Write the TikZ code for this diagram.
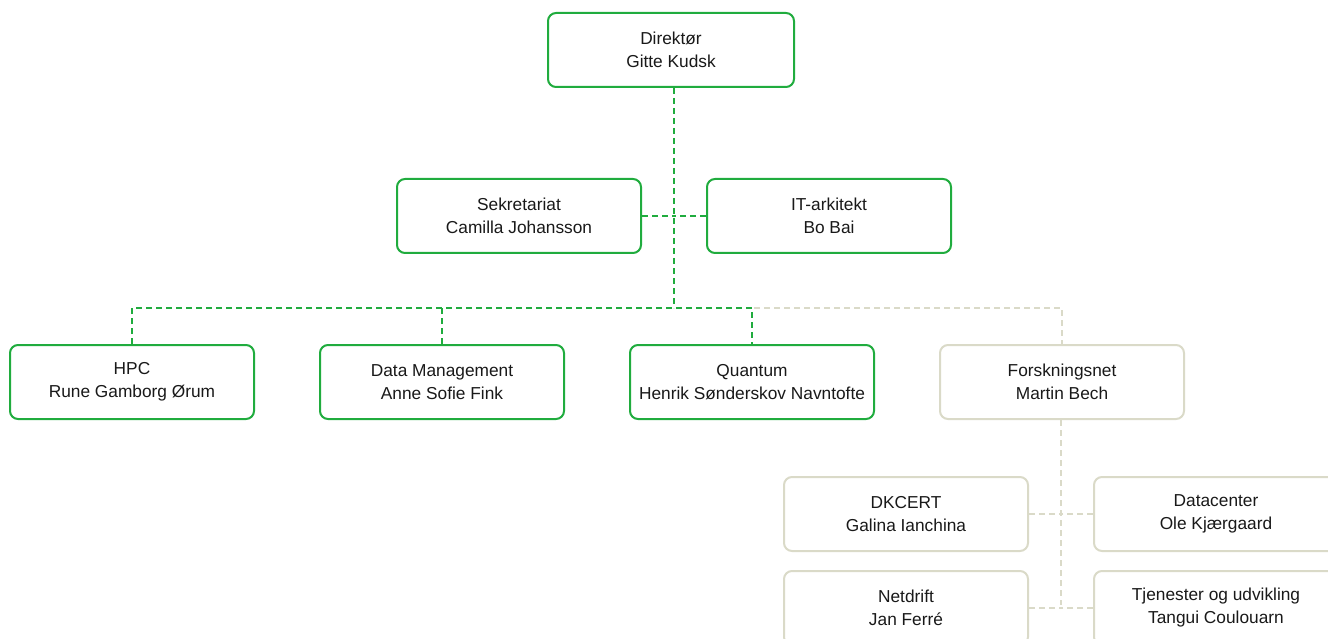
\documentclass[tikz,border=0pt]{standalone}
\usepackage{fontspec}
\setmainfont{Liberation Sans}
\definecolor{grn}{RGB}{32,172,62}
\definecolor{sand}{RGB}{218,218,200}
\definecolor{txt}{RGB}{25,25,25}
\tikzset{
  box/.style={draw, rounded corners=8pt, line width=2pt, minimum width=244pt, minimum height=74pt,
    align=center, inner sep=0pt, text=txt, font=\fontsize{17.3pt}{23pt}\selectfont, fill=white},
  gbox/.style={box, draw=grn},
  sbox/.style={box, draw=sand},
  gline/.style={draw=grn, line width=2pt, dash pattern=on 6pt off 4pt},
  sline/.style={draw=sand, line width=2pt, dash pattern=on 6pt off 4pt},
}
\begin{document}
\begin{tikzpicture}[x=1pt,y=-1pt]
\useasboundingbox (0,0) rectangle (1328,639);
\clip (0,0) rectangle (1328,639);
\coordinate (j1) at (674,308);
\coordinate (j2) at (1061,605);
\node[gbox, minimum width=246pt] (dir) at (671,50) {Direktør\\Gitte Kudsk};
\node[gbox] (sek) at (519,216) {Sekretariat\\Camilla Johansson};
\node[gbox] (ita) at (829,216) {IT-arkitekt\\Bo Bai};
\node[gbox] (hpc) at (132,382) {HPC\\Rune Gamborg Ørum};
\node[gbox] (dm) at (442,382) {Data Management\\Anne Sofie Fink};
\node[gbox] (qu) at (752,382) {Quantum\\Henrik Sønderskov Navntofte};
\node[sbox] (fn) at (1062,382) {Forskningsnet\\Martin Bech};
\node[sbox] (dk) at (906,514) {DKCERT\\Galina Ianchina};
\node[sbox] (dc) at (1216,514) {Datacenter\\Ole Kjærgaard};
\node[sbox] (nd) at (906,608) {Netdrift\\Jan Ferré};
\node[sbox] (tj) at (1216,608) {Tjenester og udvikling\\Tangui Coulouarn};
\draw[gline] (dir.south -| j1) -- (j1);
\draw[gline] (sek.east) -- (sek.east -| j1);
\draw[gline] (ita.west) -- (ita.west -| j1);
\draw[gline] (hpc.north) -- (hpc.north |- j1) -- (qu.north |- j1) -- (qu.north);
\draw[gline] (dm.north) -- (dm.north |- j1);
\draw[sline] (qu.north |- j1) ++(2,0) -- (fn.north |- j1) -- (fn.north);
\draw[sline] (fn.south -| j2) -- (j2);
\draw[sline] (dk.east) -- (dk.east -| j2);
\draw[sline] (dc.west) -- (dc.west -| j2);
\draw[sline] (nd.east) -- (nd.east -| j2);
\draw[sline] (tj.west) -- (tj.west -| j2);
\end{tikzpicture}
\end{document}
